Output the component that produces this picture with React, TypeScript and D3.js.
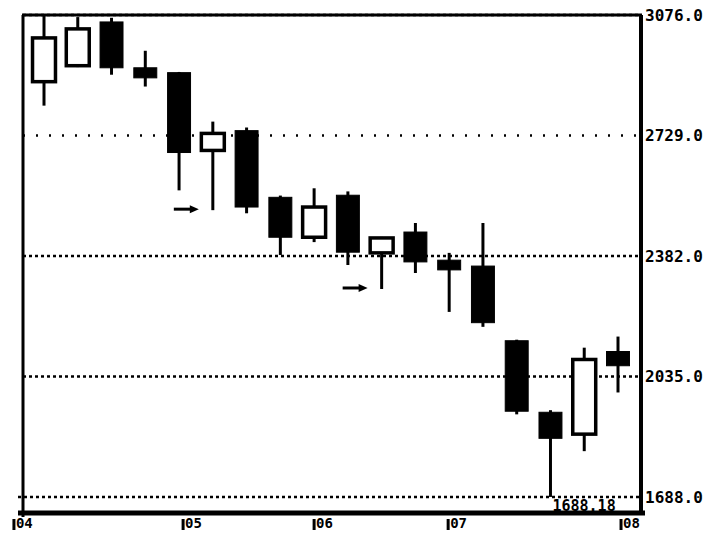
import React from "react";
import * as d3 from "d3";

const opens = [2884, 2930, 3056, 2924, 2910, 2686, 2743, 2551, 2436, 2557, 2391, 2451, 2370, 2353, 2138, 1932, 1869, 2107];
const closes = [3010, 3036, 2924, 2895, 2680, 2735, 2523, 2436, 2523, 2393, 2434, 2365, 2342, 2190, 1935, 1857, 2084, 2066];
const highs = [3076, 3070, 3068, 2973, 2912, 2769, 2752, 2556, 2577, 2568, 2437, 2477, 2391, 2477, 2141, 1938, 2118, 2150];
const lows = [2815, 2926, 2904, 2870, 2571, 2514, 2505, 2385, 2422, 2356, 2287, 2333, 2221, 2178, 1926, 1688.18, 1820, 1989];

const xTickLabels = ["04", "05", "06", "07", "08"];
const xTickIndex = [-0.92, 4.09, 7.97, 11.94, 17.06];

const yTicks = [3076, 2729, 2382, 2035, 1688];
const yTickLabels = ["3076.0", "2729.0", "2382.0", "2035.0", "1688.0"];

const arrowTargets = [5, 10];
const lowLabel = "1688.18";
const lowIndex = 15;

const W = 710;
const H = 533;
const left = 23;
const right = 641;
const top = 15;
const bottom = 513;

export default function App() {
  const x = d3.scaleLinear().domain([0, 17]).range([44, 618]);
  const y = d3.scaleLinear().domain([1688, 3076]).range([497, 15]);
  const step = x(1) - x(0);
  const bw = step * 0.68;
  const font = "'DejaVu Sans Mono', monospace";

  return (
    <svg
      width={W}
      height={H}
      style={{ position: "absolute", left: 0, top: 0, background: "#fff" }}
    >
      <rect x={0} y={0} width={W} height={H} fill="#fff" />
      {/* gridlines */}
      {yTicks.map((t, i) => (
        <line
          key={"g" + i}
          x1={i === yTicks.length - 1 ? 18 : left}
          x2={right}
          y1={y(t)}
          y2={y(t)}
          stroke="#000"
          strokeWidth={2.5}
          strokeDasharray={i === 1 ? "2 11" : "3 3"}
        />
      ))}
      {/* candles */}
      {opens.map((o, i) => {
        const c = closes[i];
        const up = c >= o;
        const cx = x(i);
        const yTop = y(Math.max(o, c));
        const yBot = y(Math.min(o, c));
        return (
          <g key={"c" + i}>
            <line x1={cx} x2={cx} y1={y(highs[i])} y2={y(lows[i])} stroke="#000" strokeWidth={3} />
            <rect
              x={cx - bw / 2}
              y={yTop}
              width={bw}
              height={Math.max(yBot - yTop, 2)}
              fill={up ? "#fff" : "#000"}
              stroke="#000"
              strokeWidth={up ? 3.5 : 1}
            />
          </g>
        );
      })}
      {/* arrows */}
      {arrowTargets.map((t, i) => {
        const ay = y(lows[t]) - 1;
        const x2 = x(t) - 14;
        const x1 = x2 - 25;
        return (
          <g key={"a" + i}>
            <line x1={x1} x2={x2 - 6} y1={ay} y2={ay} stroke="#000" strokeWidth={3} />
            <path d={`M${x2},${ay} L${x2 - 9},${ay - 4} L${x2 - 9},${ay + 4} Z`} fill="#000" />
          </g>
        );
      })}
      {/* frame */}
      <line x1={left - 1} x2={right + 1} y1={top} y2={top} stroke="#000" strokeWidth={3} />
      <line x1={left} x2={left} y1={top} y2={bottom + 4} stroke="#000" strokeWidth={3} />
      <line x1={right} x2={right} y1={top} y2={bottom + 2} stroke="#000" strokeWidth={4} />
      <line x1={18} x2={645} y1={bottom} y2={bottom} stroke="#000" strokeWidth={5} />
      {/* y labels */}
      {yTicks.map((t, i) => (
        <text
          key={"yl" + i}
          x={645}
          y={y(t)}
          dy="0.36em"
          fontFamily={font}
          fontWeight="bold"
          fontSize={16}
          fill="#000"
        >
          {yTickLabels[i]}
        </text>
      ))}
      {/* x labels */}
      {xTickLabels.map((l, i) => {
        const tx = x(xTickIndex[i]);
        return (
          <g key={"xl" + i}>
            <line x1={tx + 1} x2={tx + 1} y1={bottom + 6} y2={530} stroke="#000" strokeWidth={3} />
            <text
              x={tx + 3}
              y={528}
              fontFamily={font}
              fontWeight="bold"
              fontSize={14}
              fill="#000"
            >
              {l}
            </text>
          </g>
        );
      })}
      {/* low annotation */}
      <text
        x={x(lowIndex) + 2}
        y={511}
        fontFamily={font}
        fontWeight="bold"
        fontSize={15}
        fill="#000"
      >
        {lowLabel}
      </text>
    </svg>
  );
}
